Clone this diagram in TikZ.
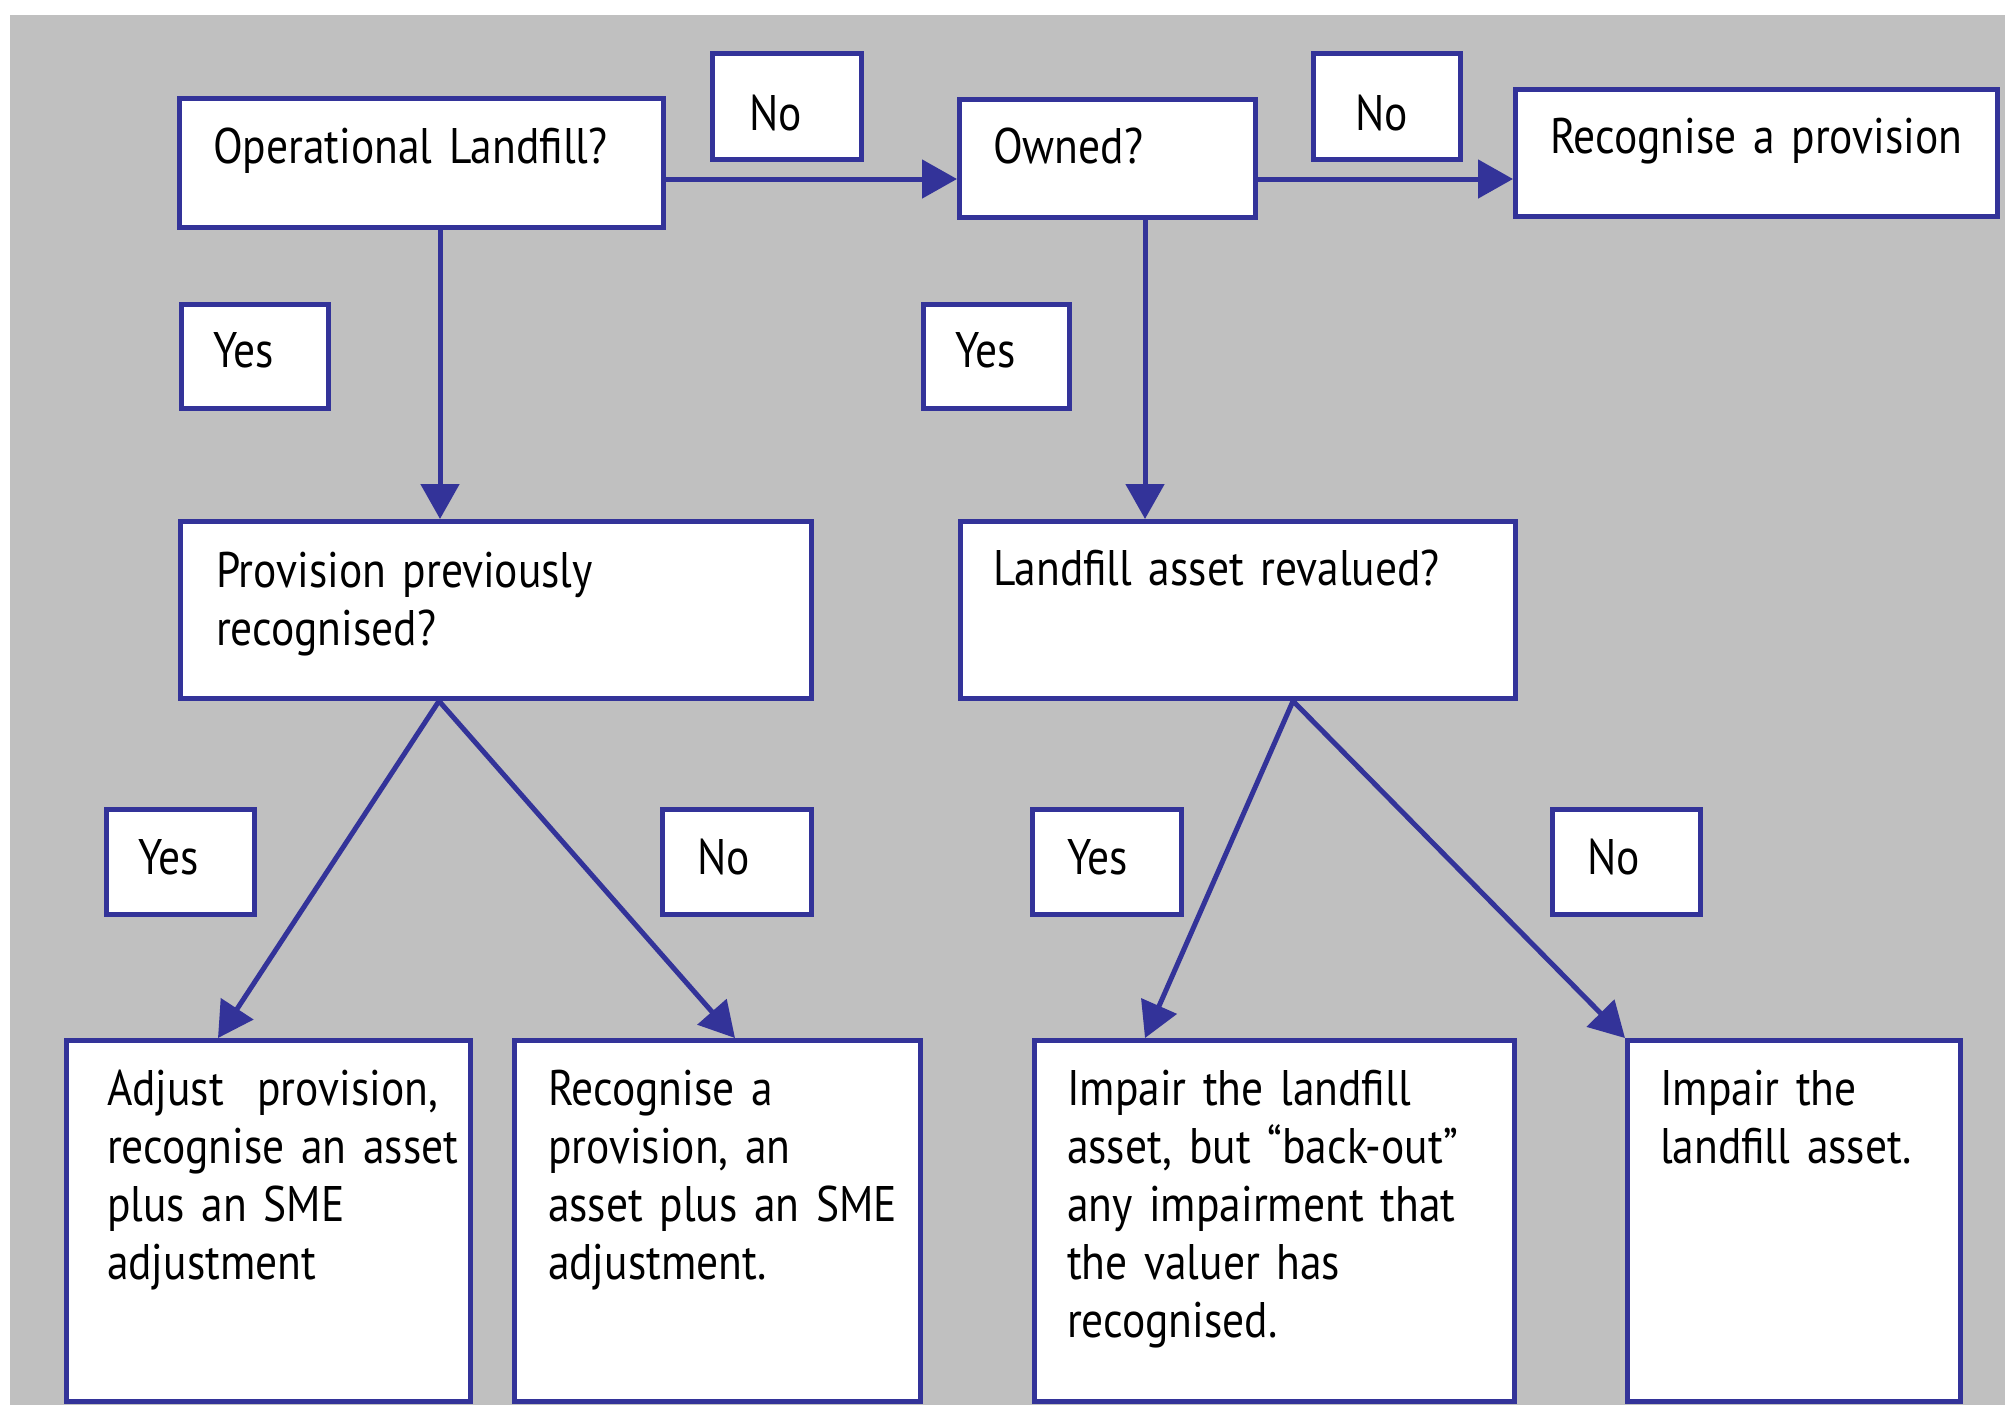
\documentclass[tikz,border=0pt]{standalone}
\usepackage{fontspec}
\setmainfont[FakeStretch=0.87, WordSpace=0.6]{PT Sans}
\usetikzlibrary{arrows.meta}
\definecolor{bblue}{RGB}{51,51,153}
\definecolor{bggray}{RGB}{192,192,192}
\tikzset{
  box/.style={draw=bblue, line width=2.5pt, fill=white, inner sep=0pt, outer sep=1.25pt},
  txt/.style={inner sep=0pt, outer sep=0pt, text width=600pt, align=left, text=black,
    font=\fontsize{25pt}{29pt}\selectfont},
  arr/.style={draw=bblue, line width=2.5pt, -{Triangle[length=17.5pt, width=19pt]}, color=bblue},
}
\newcommand\mybox[5]{\node[box, anchor=north west, minimum width={(#4-#2)*0.5pt-2.5pt}, minimum height={(#5-#3)*0.5pt-2.5pt}] (#1) at (#2,#3) {};}
\newcommand\mytext[5]{\node[txt, anchor=base west] (#1) at ([xshift=#3pt, yshift=-#4pt]#2.north west) {#5};}
\begin{document}
\begin{tikzpicture}[x=0.5pt, y=-0.5pt]
\useasboundingbox (0,0) rectangle (2005,1405);
\fill[white] (0,0) rectangle (2005,1405);
\fill[bggray] (10,15) rectangle (2005,1405);

% boxes
\mybox{A}{177}{96}{666}{230}
\mybox{no1}{710}{51}{864}{162}
\mybox{B}{957}{97}{1258}{220}
\mybox{no2}{1311}{51}{1463}{162}
\mybox{C}{1513}{87}{2000}{219}
\mybox{yes1}{179}{302}{331}{411}
\mybox{yes2}{921}{302}{1072}{411}
\mybox{D}{178}{519}{814}{701}
\mybox{E}{958}{519}{1518}{701}
\mybox{yes3}{104}{807}{257}{917}
\mybox{no3}{660}{807}{814}{917}
\mybox{yes4}{1030}{807}{1184}{917}
\mybox{no4}{1550}{807}{1703}{917}
\mybox{F}{64}{1038}{473}{1404}
\mybox{G}{512}{1038}{923}{1404}
\mybox{H}{1032}{1038}{1517}{1404}
\mybox{I}{1625}{1038}{1963}{1404}

% texts
\mytext{At}{A}{18}{33.5}{Operational Landfill?}
\mytext{no1t}{no1}{19.5}{39.5}{No}
\mytext{Bt}{B}{18}{33}{Owned?}
\mytext{no2t}{no2}{22}{39.5}{No}
\mytext{Ct}{C}{18.5}{33}{Recognise a provision}
\mytext{yes1t}{yes1}{17}{32.5}{Yes}
\mytext{yes2t}{yes2}{17}{32.5}{Yes}
\mytext{Dt}{D}{19}{34}{Provision previously\\recognised?}
\mytext{Et}{E}{17.5}{33}{Landfill asset revalued?}
\mytext{yes3t}{yes3}{17}{33.5}{Yes}
\mytext{no3t}{no3}{18.5}{33.5}{No}
\mytext{yes4t}{yes4}{18.5}{33.5}{Yes}
\mytext{no4t}{no4}{18.5}{33.5}{No}
\mytext{Ft}{F}{21.5}{33.5}{Adjust\ \ provision,\\recognise an asset\\plus an SME\\adjustment}
\mytext{Gt}{G}{18}{33.5}{Recognise a\\provision, an\\asset plus an SME\\adjustment.}
\mytext{Ht}{H}{17.5}{33.5}{Impair the landfill\\asset, but “back-out”\\any impairment that\\the valuer has\\recognised.}
\mytext{It}{I}{17.5}{33.5}{Impair the\\landfill asset.}

% connectors
\draw[arr] ([yshift=-41.5pt]A.north east) -- ([yshift=-41pt]B.north west);
\draw[arr] ([yshift=-41pt]B.north east) -- ([yshift=-46pt]C.north west);
\draw[arr] ([xshift=131.5pt]A.south west) -- ([xshift=131pt]D.north west);
\draw[arr] ([xshift=94pt]B.south west) -- ([xshift=93.5pt]E.north west);
\draw[arr] ([xshift=130.5pt]D.south west) -- ([xshift=77pt]F.north west);
\draw[arr] ([xshift=130.5pt]D.south west) -- ([xshift=111.5pt]G.north west);
\draw[arr] ([xshift=167.5pt]E.south west) -- ([xshift=56.5pt]H.north west);
\draw[arr] ([xshift=167.5pt]E.south west) -- (I.north west);
\end{tikzpicture}
\end{document}
